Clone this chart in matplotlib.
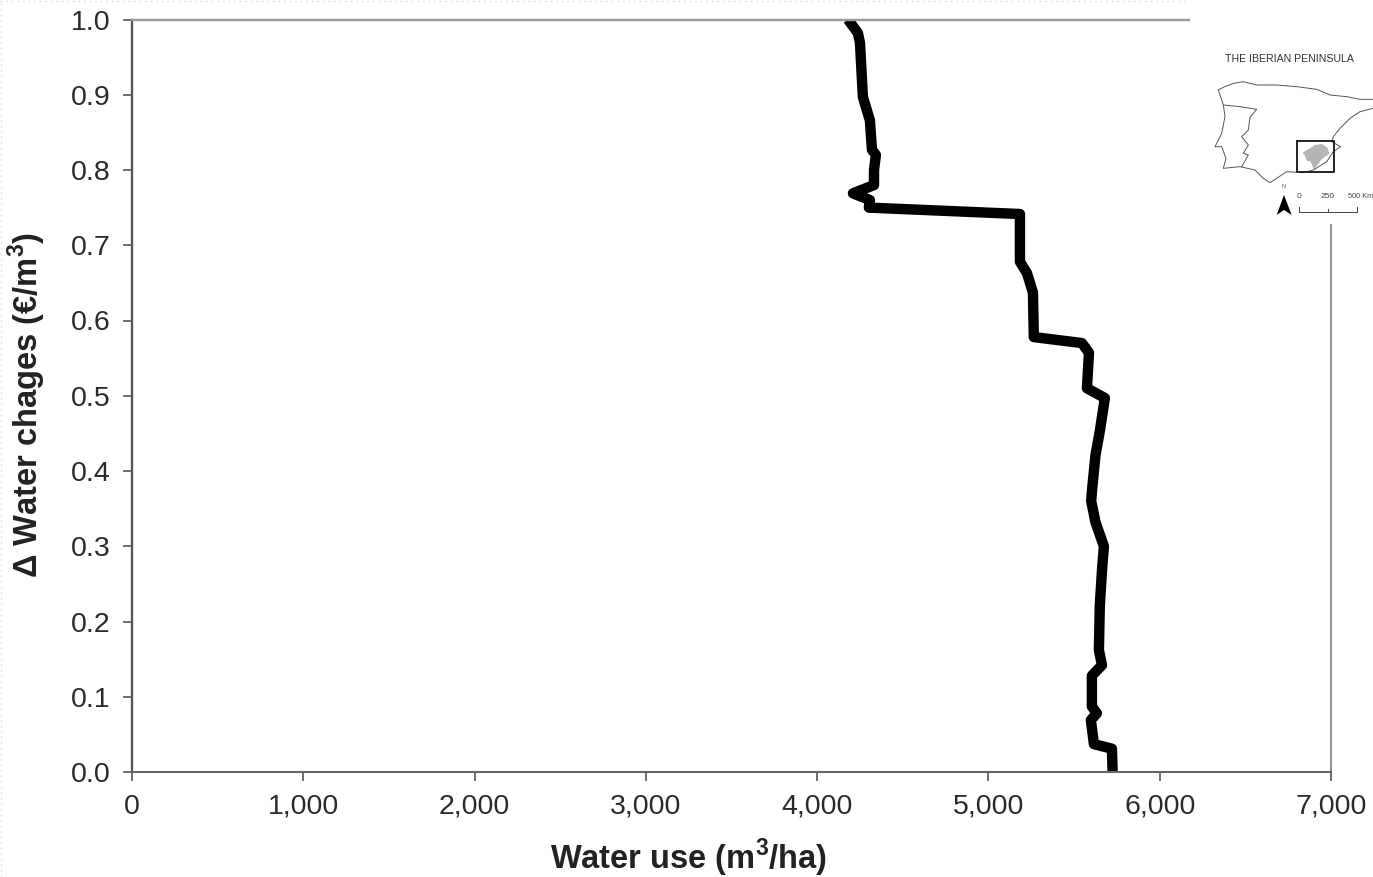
import matplotlib
matplotlib.use("Agg")
import matplotlib.pyplot as plt
from matplotlib.lines import Line2D

plt.rcParams['font.family'] = ['Liberation Sans', 'DejaVu Sans']
plt.rcParams['mathtext.fontset'] = 'custom'
plt.rcParams['mathtext.bf'] = 'Liberation Sans:bold'
plt.rcParams['mathtext.rm'] = 'Liberation Sans'

W, H = 1373, 877

# curve from top to bottom
water_use = [4180, 4238, 4250, 4267, 4308, 4320, 4343, 4332, 4332, 4209, 4308, 4302,
             5184, 5184, 5225, 5260, 5265, 5546, 5587, 5575, 5680, 5651, 5625, 5605,
             5600, 5625, 5674, 5663, 5650, 5645, 5663, 5604, 5604, 5633, 5598, 5616,
             5721, 5725]
charge = [1.0, 0.982, 0.969, 0.897, 0.866, 0.827, 0.82, 0.80, 0.78, 0.769, 0.76, 0.75,
          0.7415, 0.678, 0.663, 0.637, 0.578, 0.57, 0.557, 0.51, 0.497, 0.454, 0.421, 0.375,
          0.36, 0.332, 0.30, 0.268, 0.22, 0.162, 0.142, 0.128, 0.087, 0.078, 0.069, 0.037,
          0.031, 0.0]

x_ticks = [0, 1000, 2000, 3000, 4000, 5000, 6000, 7000]
y_ticks = [0.0, 0.1, 0.2, 0.3, 0.4, 0.5, 0.6, 0.7, 0.8, 0.9, 1.0]

# map outline, in the map's own drawing units
coast_x = [85, 100, 130, 160, 200, 260, 320, 380, 420, 470, 510, 549]
coast_y = [180, 172, 160, 155, 165, 165, 170, 178, 195, 200, 208, 208]
south_x = [549, 510, 480, 450, 430, 425, 452, 430, 410, 370, 340, 290, 240, 220, 195, 150,
           100, 108, 95, 75, 95, 105, 100, 85]
south_y = [235, 245, 265, 295, 320, 335, 350, 365, 395, 420, 428, 425, 458, 445, 420, 410,
           415, 385, 350, 350, 310, 260, 225, 180]
border_x = [100, 150, 200, 180, 175, 155, 175, 160, 175, 155]
border_y = [225, 230, 238, 262, 300, 320, 345, 370, 375, 410]
region_x = [338, 355, 375, 395, 412, 418, 405, 395, 372, 362, 350, 345, 338]
region_y = [368, 358, 345, 342, 352, 372, 380, 388, 418, 395, 392, 378, 368]
box_x = [322, 432, 432, 322, 322]
box_y = [333, 333, 425, 425, 333]
arrow_x = [260, 282, 305, 282]
arrow_y = [555, 495, 555, 540]
scale_x = [328, 328, 500, 500]
scale_y = [530, 546, 546, 530]

fig = plt.figure(figsize=(W / 100, H / 100), dpi=100)
fig.patch.set_facecolor("white")

ax = fig.add_axes([132 / W, 1 - 772 / H, (1331 - 132) / W, (772 - 19.5) / H])
ax.plot(water_use, charge, color="black", lw=7.5, solid_joinstyle="round", solid_capstyle="butt")
ax.set_xlim(0, 7000)
ax.set_ylim(0, 1)
ax.set_xticks(x_ticks)
ax.set_xticklabels([f"{v:,}" for v in x_ticks])
ax.set_yticks(y_ticks)
ax.set_yticklabels([f"{v:.1f}" for v in y_ticks])
ax.tick_params(labelsize=20.5, length=6.5, width=1.2, color="#555555", labelcolor="#2a2a2a", pad=9)
ax.spines["left"].set_color("#555555")
ax.spines["left"].set_linewidth(1.7)
ax.spines["bottom"].set_color("#666666")
ax.spines["bottom"].set_linewidth(1.5)
ax.spines["top"].set_color("#999999")
ax.spines["top"].set_linewidth(1.7)
ax.spines["right"].set_color("#888888")
ax.spines["right"].set_linewidth(1.3)

fig.text(689 / W, 1 - 858 / H, "Water use (m$^{\\mathbf{3}}$/ha)", ha="center", va="center",
         fontsize=23.5, fontweight="bold", color="#222222")
fig.text(27 / W, 1 - 405 / H, "\u0394 Water chages (\u20ac/m$^{\\mathbf{3}}$)", ha="center", va="center",
         rotation=90, fontsize=23.5, fontweight="bold", color="#222222")

# white panel with the map, hides the corner of the frame
m = fig.add_axes([1190 / W, 1 - 224 / H, (W - 1190) / W, 224 / H], zorder=5)
m.set_xlim(0, 549)
m.set_ylim(582, -90)
m.axis("off")
m.add_patch(plt.Rectangle((0, -90), 549, 672, color="white", zorder=0))
m.fill(region_x, region_y, color="#b4b4b4", lw=0)
for xs, ys in [(coast_x, coast_y), (south_x, south_y), (border_x, border_y)]:
    m.plot(xs, ys, color="#555555", lw=0.7)
m.plot(box_x, box_y, color="#222222", lw=1.4)
m.fill(arrow_x, arrow_y, color="black", lw=0)
m.plot(scale_x, scale_y, color="#444444", lw=0.7)
m.plot([413, 413], [538, 546], color="#444444", lw=0.7)
m.text(297, 87, "THE IBERIAN PENINSULA", ha="center", va="center", fontsize=7.6, color="#333333")
m.text(281, 470, "N", ha="center", va="center", fontsize=4, color="#555555")
m.text(328, 500, "0", ha="center", va="center", fontsize=6, color="#444444")
m.text(413, 500, "250", ha="center", va="center", fontsize=6, color="#444444")
m.text(474, 500, "500 Km", ha="left", va="center", fontsize=5.3, color="#444444")

# faint dotted edge left by the source scan
fig.add_artist(Line2D([0.5 / W, 0.5 / W], [0, 1], color="#e4e4e4", lw=1, ls=(0, (1.5, 2.5))))
fig.add_artist(Line2D([0, 1], [1 - 1 / H, 1 - 1 / H], color="#e4e4e4", lw=1, ls=(0, (1.5, 2.5))))

fig.savefig("out.png", dpi=100)
